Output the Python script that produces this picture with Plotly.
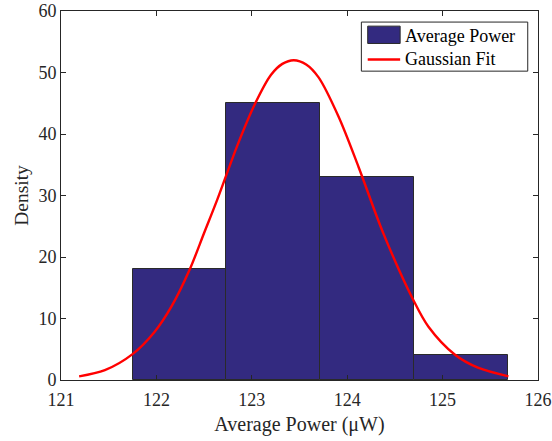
import plotly.graph_objects as go

# Histogram data
bin_edges = [121.752, 122.733, 123.717, 124.699, 125.683]
density = [18, 45, 33, 4]

# Gaussian fit curve points
fit_x = [121.19, 121.46, 121.75, 121.98, 122.16, 122.35, 122.50, 122.64,
         122.85, 123.03, 123.20, 123.32, 123.44, 123.57, 123.70, 123.91, 124.12,
         124.38, 124.69, 124.85, 125.13, 125.37, 125.69]
fit_y = [0.6, 1.6, 4.2, 7.8, 12.0, 18.0, 23.9, 29.4,
         38.2, 44.8, 49.6, 51.4, 52.0, 51.3, 49.2, 42.8, 34.6,
         23.8, 13.1, 8.7, 4.1, 2.0, 0.6]

x_ticks = [121, 122, 123, 124, 125, 126]
y_ticks = [0, 10, 20, 30, 40, 50, 60]
legend_labels = ["Average Power", "Gaussian Fit"]

centers = [(a + b) / 2 for a, b in zip(bin_edges[:-1], bin_edges[1:])]
widths = [b - a for a, b in zip(bin_edges[:-1], bin_edges[1:])]

FONT = "Liberation Serif, Times New Roman, serif"
AX = "#262626"
BAR_COLOR = "rgb(51,42,128)"
LINE_COLOR = "#ff0000"

fig = go.Figure()
fig.add_trace(go.Bar(
    x=centers, y=density, width=widths, name=legend_labels[0], showlegend=False,
    marker=dict(color=BAR_COLOR, line=dict(color="#2a2a2a", width=1)),
))
fig.add_trace(go.Scatter(
    x=fit_x, y=fit_y, mode="lines", name=legend_labels[1], showlegend=False,
    line=dict(color=LINE_COLOR, width=2.4, shape="spline", smoothing=0.9),
))

axis_common = dict(
    showline=True, linecolor=AX, linewidth=1, mirror="ticks",
    ticks="inside", ticklen=5, tickcolor=AX, showgrid=False, zeroline=False,
    tickfont=dict(family=FONT, size=18, color=AX), automargin=False,
)

# Legend drawn as a boxed key in paper coordinates
shapes = [
    dict(type="rect", xref="paper", yref="paper", x0=0.6297, x1=0.9785, y0=0.837, y1=0.970,
         line=dict(color=AX, width=1), fillcolor="white", layer="above"),
    dict(type="rect", xref="paper", yref="paper", x0=0.643, x1=0.711, y0=0.912, y1=0.959,
         line=dict(color="#2a2a2a", width=1), fillcolor=BAR_COLOR, layer="above"),
    dict(type="line", xref="paper", yref="paper", x0=0.643, x1=0.711, y0=0.8685, y1=0.8685,
         line=dict(color=LINE_COLOR, width=2.4), layer="above"),
]
annotations = [
    dict(text=legend_labels[0], xref="paper", yref="paper", x=0.716, y=0.932,
         xanchor="left", yanchor="middle", showarrow=False,
         font=dict(family=FONT, size=18, color="#000000")),
    dict(text=legend_labels[1], xref="paper", yref="paper", x=0.716, y=0.8705,
         xanchor="left", yanchor="middle", showarrow=False,
         font=dict(family=FONT, size=18, color="#000000")),
]

fig.update_layout(
    width=552, height=441,
    margin=dict(l=61, r=14, t=11, b=61),
    paper_bgcolor="white", plot_bgcolor="white",
    font=dict(family=FONT, size=18, color=AX),
    bargap=0,
    showlegend=False,
    shapes=shapes,
    annotations=annotations,
    xaxis=dict(range=[121, 126], tickvals=x_ticks, ticklabeloverflow="allow",
               ticklabelstandoff=3,
               title=dict(text="Average Power (\u03bcW)", font=dict(family=FONT, size=20, color=AX), standoff=8),
               **axis_common),
    yaxis=dict(range=[0, 60], tickvals=y_ticks, ticklabeloverflow="allow",
               title=dict(text="Density", font=dict(family=FONT, size=19.5, color=AX), standoff=4),
               **axis_common),
)

fig.write_html("out.html", config={"displayModeBar": False},
               post_script="document.body.style.margin='0';")
